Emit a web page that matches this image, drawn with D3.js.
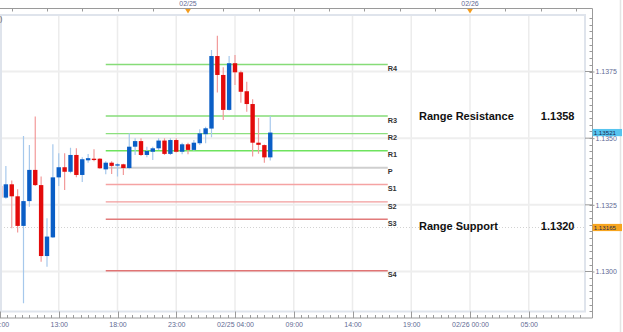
<!DOCTYPE html>
<html>
<head>
<meta charset="utf-8">
<script src="https://cdn.jsdelivr.net/npm/d3@7"></script>
<style>
  body { margin: 0; background: #fff; }
  svg { display: block; }
  text { font-family: "Liberation Sans", Arial, sans-serif; }
</style>
</head>
<body>
<div id="chart"></div>
<script>
// 30 minute EUR/USD candles
var candleTimes = [
  "2015-02-24 08:00", "2015-02-24 08:30", "2015-02-24 09:00", "2015-02-24 09:30",
  "2015-02-24 10:00", "2015-02-24 10:30", "2015-02-24 11:00", "2015-02-24 11:30",
  "2015-02-24 12:00", "2015-02-24 12:30", "2015-02-24 13:00", "2015-02-24 13:30",
  "2015-02-24 14:00", "2015-02-24 14:30", "2015-02-24 15:00", "2015-02-24 15:30",
  "2015-02-24 16:00", "2015-02-24 16:30", "2015-02-24 17:00", "2015-02-24 17:30",
  "2015-02-24 18:00", "2015-02-24 18:30", "2015-02-24 19:00", "2015-02-24 19:30",
  "2015-02-24 20:00", "2015-02-24 20:30", "2015-02-24 21:00", "2015-02-24 21:30",
  "2015-02-24 22:00", "2015-02-24 22:30", "2015-02-24 23:00", "2015-02-24 23:30",
  "2015-02-25 00:00", "2015-02-25 00:30", "2015-02-25 01:00", "2015-02-25 01:30",
  "2015-02-25 02:00", "2015-02-25 02:30", "2015-02-25 03:00", "2015-02-25 03:30",
  "2015-02-25 04:00", "2015-02-25 04:30", "2015-02-25 05:00", "2015-02-25 05:30",
  "2015-02-25 06:00", "2015-02-25 06:30", "2015-02-25 07:00"
];
var openVals = [
  1.13321, 1.13277, 1.13327, 1.13282, 1.13171, 1.13264, 1.13381, 1.13324,
  1.13058, 1.13128, 1.13353, 1.13391, 1.13374, 1.13437, 1.13362, 1.13417,
  1.13423, 1.13423, 1.13383, 1.13408, 1.13397, 1.13402, 1.13388, 1.13468,
  1.13489, 1.13437, 1.13449, 1.13462, 1.13491, 1.13441, 1.13493, 1.13449,
  1.13477, 1.13456, 1.13481, 1.13515, 1.13536, 1.13808, 1.13737, 1.13606,
  1.13781, 1.13747, 1.13676, 1.13628, 1.13483, 1.13474, 1.13428
];
var highVals = [
  1.13326, 1.13396, 1.13341, 1.13308, 1.13508, 1.13474, 1.13581, 1.13356,
  1.13200, 1.13477, 1.13443, 1.13443, 1.13464, 1.13462, 1.13428, 1.13441,
  1.13458, 1.13425, 1.13413, 1.13413, 1.13406, 1.13404, 1.13518, 1.13500,
  1.13500, 1.13468, 1.13468, 1.13500, 1.13500, 1.13500, 1.13500, 1.13483,
  1.13483, 1.13493, 1.13533, 1.13543, 1.13831, 1.13884, 1.13766, 1.13808,
  1.13812, 1.13753, 1.13712, 1.13646, 1.13576, 1.13476, 1.13583
];
var lowVals = [
  1.13239, 1.13273, 1.13162, 1.13146, 1.12881, 1.13243, 1.13321, 1.13037,
  1.13018, 1.13126, 1.13321, 1.13306, 1.13368, 1.13353, 1.13336, 1.13408,
  1.13413, 1.13385, 1.13365, 1.13366, 1.13356, 1.13362, 1.13383, 1.13437,
  1.13433, 1.13428, 1.13418, 1.13456, 1.13437, 1.13437, 1.13446, 1.13440,
  1.13440, 1.13453, 1.13474, 1.13481, 1.13503, 1.13671, 1.13568, 1.13604,
  1.13699, 1.13633, 1.13599, 1.13431, 1.13442, 1.13408, 1.13416
];
var closeVals = [
  1.13277, 1.13327, 1.13282, 1.13171, 1.13264, 1.13381, 1.13324, 1.13058,
  1.13131, 1.13353, 1.13391, 1.13374, 1.13437, 1.13362, 1.13421, 1.13425,
  1.13418, 1.13387, 1.13408, 1.13396, 1.13402, 1.13388, 1.13468, 1.13489,
  1.13437, 1.13452, 1.13462, 1.13491, 1.13441, 1.13493, 1.13449, 1.13477,
  1.13456, 1.13483, 1.13518, 1.13537, 1.13808, 1.13737, 1.13606, 1.13781,
  1.13747, 1.13674, 1.13628, 1.13483, 1.13475, 1.13428, 1.13521
];

// pivot levels
var levelNames = ["R4", "R3", "R2", "R1", "P", "S1", "S2", "S3", "S4"];
var levelValues = [1.13776, 1.13583, 1.13517, 1.13453, 1.13389, 1.13326, 1.13261, 1.13196, 1.13003];
var levelColors = ["#86dc78", "#86dc78", "#8ce07e", "#6ee35e", "#cfcfcf", "#f5a3a3", "#f29c9c", "#e27b7b", "#e07474"];
var levelStart = "2015-02-24 17:00";
var levelEnd = "2015-02-25 17:00";

// range notes
var rangeNames = ["Range Resistance", "Range Support"];
var rangeValues = [1.1358, 1.1320];
var rangeTextY = [1.13568, 1.13155];

// axis ticks
var xTickTimes = ["2015-02-24 08:00", "2015-02-24 13:00", "2015-02-24 18:00", "2015-02-24 23:00",
  "2015-02-25 04:00", "2015-02-25 09:00", "2015-02-25 14:00", "2015-02-25 19:00",
  "2015-02-26 00:00", "2015-02-26 05:00"];
var xTickLabels = ["08:00", "13:00", "18:00", "23:00", "02/25 04:00", "09:00", "14:00", "19:00", "02/26 00:00", "05:00"];
var dayTimes = ["2015-02-25 00:00", "2015-02-26 00:00"];
var dayLabels = ["02/25", "02/26"];
var yTicks = [1.1300, 1.1325, 1.1350, 1.1375];

// price tags on the right axis
var tagValues = [1.13521, 1.13165];
var tagLabels = ["1.13521", "1.13165"];
var tagColors = ["#56c4ef", "#f7a51f"];

var width = 623, height = 332;
var plot = {left: 1, right: 585, top: 15, bottom: 311.5};
var axisX = 592.5, topAxisY = 8.5, bottomAxisY = 318;

var parseTime = d3.timeParse("%Y-%m-%d %H:%M");

var candles = candleTimes.map(function(t, i) {
  return {t: parseTime(t), o: openVals[i], h: highVals[i], l: lowVals[i], c: closeVals[i]};
});

var x = d3.scaleTime()
  .domain([parseTime("2015-02-24 08:00"), parseTime("2015-02-26 08:00")])
  .range([0, 564]);
var y = d3.scaleLinear()
  .domain([1.1300, 1.1375])
  .range([271.5, 71.5]);

var svg = d3.select("#chart").append("svg")
  .attr("width", width)
  .attr("height", height);

svg.append("rect").attr("width", width).attr("height", height).attr("fill", "#fff");

svg.append("defs").append("clipPath").attr("id", "clip")
  .append("rect")
    .attr("x", plot.left).attr("y", plot.top)
    .attr("width", plot.right - plot.left).attr("height", plot.bottom - plot.top);

// window edge on the right
svg.append("line")
  .attr("x1", 620.5).attr("x2", 620.5).attr("y1", 0).attr("y2", height)
  .attr("stroke", "#e4e4e4").attr("stroke-width", 1.5);

var g = svg.append("g").attr("clip-path", "url(#clip)");

// grid
g.selectAll("line.vgrid").data(xTickTimes).enter().append("line")
  .attr("class", "vgrid")
  .attr("x1", function(d) { return x(parseTime(d)); })
  .attr("x2", function(d) { return x(parseTime(d)); })
  .attr("y1", plot.top).attr("y2", plot.bottom)
  .attr("stroke", "#ececec").attr("stroke-width", 1.5);

g.selectAll("line.hgrid").data(yTicks).enter().append("line")
  .attr("class", "hgrid")
  .attr("x1", plot.left).attr("x2", plot.right)
  .attr("y1", function(d) { return y(d); })
  .attr("y2", function(d) { return y(d); })
  .attr("stroke", "#eeeeee").attr("stroke-width", 2);

// dotted line at the orange price
g.append("line")
  .attr("x1", plot.left).attr("x2", plot.right)
  .attr("y1", y(tagValues[1])).attr("y2", y(tagValues[1]))
  .attr("stroke", "#d2d2d2").attr("stroke-dasharray", "1,2");

// pivot lines
var x0 = x(parseTime(levelStart)), x1 = x(parseTime(levelEnd));
g.selectAll("line.level").data(levelValues).enter().append("line")
  .attr("class", "level")
  .attr("x1", x0).attr("x2", x1)
  .attr("y1", function(d) { return y(d); })
  .attr("y2", function(d) { return y(d); })
  .attr("stroke", function(d, i) { return levelColors[i]; })
  .attr("stroke-width", function(d, i) { return levelNames[i] === "P" ? 2 : 1.4; });

// candles
var bodyW = 4.4;
var candle = g.selectAll("g.candle").data(candles).enter().append("g")
  .attr("class", "candle");

candle.append("line")
  .attr("x1", function(d) { return x(d.t); })
  .attr("x2", function(d) { return x(d.t); })
  .attr("y1", function(d) { return y(d.h); })
  .attr("y2", function(d) { return y(d.l); })
  .attr("stroke", function(d) { return d.c >= d.o ? "#a6c8ec" : "#f29a9a"; })
  .attr("stroke-width", 1.2);

candle.append("rect")
  .attr("x", function(d) { return x(d.t) - bodyW / 2; })
  .attr("width", bodyW)
  .attr("y", function(d) { return y(Math.max(d.o, d.c)); })
  .attr("height", function(d) { return Math.max(1.2, Math.abs(y(d.o) - y(d.c))); })
  .attr("fill", function(d) { return d.c >= d.o ? "#0a5ec6" : "#e30b0b"; });

// pivot labels
svg.selectAll("text.level").data(levelValues).enter().append("text")
  .attr("class", "level")
  .attr("x", x1)
  .attr("y", function(d) { return y(d) + 6.7; })
  .attr("font-size", 7.3)
  .attr("font-weight", "bold")
  .attr("fill", "#333")
  .text(function(d, i) { return levelNames[i]; });

// range notes
svg.selectAll("text.rname").data(rangeNames).enter().append("text")
  .attr("class", "rname")
  .attr("x", 419)
  .attr("y", function(d, i) { return y(rangeTextY[i]); })
  .attr("font-size", 11)
  .attr("font-weight", "bold")
  .attr("fill", "#111")
  .text(function(d) { return d; });

svg.selectAll("text.rval").data(rangeValues).enter().append("text")
  .attr("class", "rval")
  .attr("x", 574.5)
  .attr("y", function(d, i) { return y(rangeTextY[i]); })
  .attr("text-anchor", "end")
  .attr("font-size", 11)
  .attr("font-weight", "bold")
  .attr("fill", "#111")
  .text(function(d) { return d3.format(".4f")(d); });

// panel border
svg.append("rect")
  .attr("x", plot.left).attr("y", plot.top)
  .attr("width", plot.right - plot.left).attr("height", plot.bottom - plot.top)
  .attr("fill", "none").attr("stroke", "#dfe4ec").attr("stroke-width", 2);

var axisColor = "#9a9a9a", labelColor = "#5f6b94";

// right axis
var yMinor = d3.range(1.1285, 1.1397, 0.00025);
svg.selectAll("line.ymin").data(yMinor).enter().append("line")
  .attr("class", "ymin")
  .attr("x1", axisX - 3).attr("x2", axisX)
  .attr("y1", function(d) { return Math.round(y(d)) + 0.5; })
  .attr("y2", function(d) { return Math.round(y(d)) + 0.5; })
  .attr("stroke", axisColor);

var yAxis = svg.append("g")
  .attr("transform", "translate(" + axisX + ",0)")
  .call(d3.axisRight(y).tickValues(yTicks).tickFormat(d3.format(".4f")).tickSize(2).tickPadding(1));
yAxis.select(".domain").remove();
yAxis.selectAll(".tick line").attr("stroke", axisColor);
yAxis.selectAll(".tick text").attr("fill", labelColor).attr("font-size", 7)
  .attr("font-family", "'Liberation Sans', Arial, sans-serif");
svg.selectAll("line.ymaj").data(yTicks).enter().append("line")
  .attr("class", "ymaj")
  .attr("x1", plot.right).attr("x2", axisX)
  .attr("y1", function(d) { return y(d); })
  .attr("y2", function(d) { return y(d); })
  .attr("stroke", axisColor);

svg.append("line")
  .attr("x1", axisX).attr("x2", axisX).attr("y1", topAxisY).attr("y2", bottomAxisY)
  .attr("stroke", axisColor);

// bottom axis
var xMinor = [];
xTickTimes.forEach(function(d) {
  var t = parseTime(d);
  for (var j = 1; j < 8; j++) xMinor.push(new Date(t.getTime() + j * 37.5 * 60000));
});
svg.selectAll("line.xmin").data(xMinor.filter(function(d) { return x(d) < axisX; })).enter().append("line")
  .attr("class", "xmin")
  .attr("x1", function(d) { return Math.round(x(d)) + 0.5; })
  .attr("x2", function(d) { return Math.round(x(d)) + 0.5; })
  .attr("y1", bottomAxisY - 3).attr("y2", bottomAxisY)
  .attr("stroke", axisColor);

var xAxis = svg.append("g")
  .attr("transform", "translate(0," + bottomAxisY + ")")
  .call(d3.axisBottom(x)
    .tickValues(xTickTimes.map(parseTime))
    .tickFormat(function(d, i) { return xTickLabels[i]; })
    .tickSize(0).tickPadding(4));
xAxis.select(".domain").remove();
xAxis.selectAll(".tick text").attr("fill", labelColor).attr("font-size", 7)
  .attr("font-family", "'Liberation Sans', Arial, sans-serif");
svg.selectAll("line.xmaj").data(xTickTimes).enter().append("line")
  .attr("class", "xmaj")
  .attr("x1", function(d) { return Math.round(x(parseTime(d))) + 0.5; })
  .attr("x2", function(d) { return Math.round(x(parseTime(d))) + 0.5; })
  .attr("y1", plot.bottom).attr("y2", bottomAxisY)
  .attr("stroke", axisColor);
svg.append("line")
  .attr("x1", 0).attr("x2", axisX).attr("y1", bottomAxisY).attr("y2", bottomAxisY)
  .attr("stroke", axisColor);

// top axis
var topTicks = d3.timeHour.every(3).range(x.domain()[0], x.invert(axisX));
svg.selectAll("line.ttick").data(topTicks).enter().append("line")
  .attr("class", "ttick")
  .attr("x1", function(d) { return Math.round(x(d)) + 0.5; })
  .attr("x2", function(d) { return Math.round(x(d)) + 0.5; })
  .attr("y1", topAxisY).attr("y2", topAxisY + 3)
  .attr("stroke", axisColor);
svg.append("line")
  .attr("x1", 0).attr("x2", axisX).attr("y1", topAxisY).attr("y2", topAxisY)
  .attr("stroke", axisColor);

svg.selectAll("text.day").data(dayTimes).enter().append("text")
  .attr("class", "day")
  .attr("x", function(d) { return x(parseTime(d)); })
  .attr("y", 6)
  .attr("text-anchor", "middle")
  .attr("font-size", 7)
  .attr("fill", labelColor)
  .text(function(d, i) { return dayLabels[i]; });

svg.selectAll("path.marker").data(dayTimes).enter().append("path")
  .attr("class", "marker")
  .attr("transform", function(d) { return "translate(" + x(parseTime(d)) + "," + (topAxisY + 0.5) + ")"; })
  .attr("d", "M-2.8,0L2.8,0L0,4.5Z")
  .attr("fill", "#f39c1e");

// cut-off title piece at top left
svg.append("text").attr("x", 0).attr("y", 21).attr("font-size", 7).attr("fill", "#555").text(")");

// price tags
var tag = svg.selectAll("g.tag").data(tagValues).enter().append("g")
  .attr("class", "tag")
  .attr("transform", function(d) { return "translate(" + axisX + "," + y(d) + ")"; });
tag.append("rect")
  .attr("x", 0).attr("y", -3.6).attr("width", 29.5).attr("height", 7.2)
  .attr("fill", function(d, i) { return tagColors[i]; });
tag.append("text")
  .attr("x", 1.2).attr("y", 2.3)
  .attr("font-size", 6.2)
  .attr("fill", "#1d2b4f")
  .text(function(d, i) { return tagLabels[i]; });
</script>
</body>
</html>
